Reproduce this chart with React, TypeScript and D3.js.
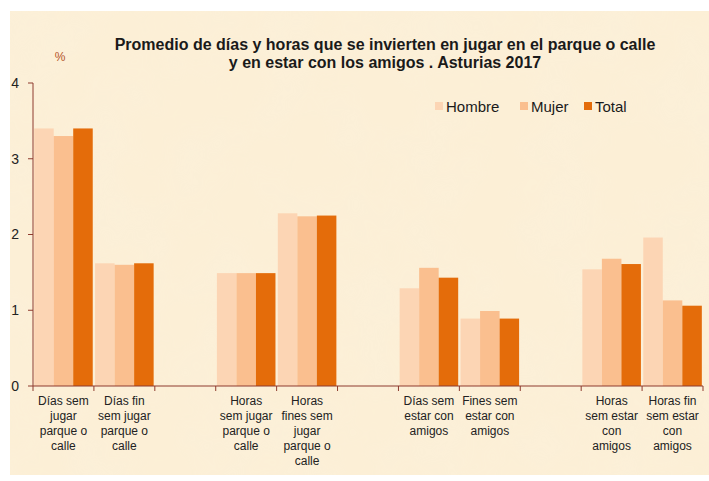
import React from "react";
import * as d3 from "d3";

// categories (empty slots are the gaps between groups)
const categories = [
  "Días sem\njugar\nparque o\ncalle",
  "Días fin\nsem jugar\nparque o\ncalle",
  "",
  "Horas\nsem jugar\nparque o\ncalle",
  "Horas\nfines sem\njugar\nparque o\ncalle",
  "",
  "Días sem\nestar con\namigos",
  "Fines sem\nestar con\namigos",
  "",
  "Horas\nsem estar\ncon\namigos",
  "Horas fin\nsem estar\ncon\namigos",
];
const series = ["Hombre", "Mujer", "Total"];
const hombre = [3.4, 1.62, null, 1.49, 2.28, null, 1.29, 0.89, null, 1.54, 1.96];
const mujer = [3.3, 1.6, null, 1.49, 2.24, null, 1.56, 0.99, null, 1.68, 1.13];
const total = [3.4, 1.62, null, 1.49, 2.25, null, 1.43, 0.89, null, 1.61, 1.06];
const yTicks = [0, 1, 2, 3, 4];
const colors = ["#fcd5b4", "#fabf8f", "#e46c0a"];

const App = () => {
  const width = 709;
  const height = 481;
  const m = { left: 33, right: 6, top: 83, bottom: 95 };
  const innerW = width - m.left - m.right;
  const innerH = height - m.top - m.bottom;

  const x = d3
    .scaleBand<number>()
    .domain(d3.range(categories.length))
    .range([0, innerW])
    .padding(0);
  const xs = d3
    .scaleBand<string>()
    .domain(series)
    .range([0, x.bandwidth()])
    .paddingInner(0)
    .paddingOuter(0.06);
  const y = d3.scaleLinear().domain([0, 4]).range([innerH, 0]);

  const values = [hombre, mujer, total];
  const axisColor = "#8e3b2e";
  const font = "Liberation Sans, Arial, sans-serif";

  // legend positions
  const legendX = [435, 520, 584];

  return (
    <svg
      width={width}
      height={height}
      style={{ position: "absolute", left: 0, top: 0 }}
    >
      <defs>
        <filter id="paper" x="0" y="0" width="100%" height="100%">
          <feTurbulence type="fractalNoise" baseFrequency="0.015" numOctaves={3} seed={4} result="n" />
          <feColorMatrix
            in="n"
            type="matrix"
            values="0 0 0 0 0.96  0 0 0 0 0.88  0 0 0 0 0.72  0 0 0 -1.4 0.95"
            result="c"
          />
          <feComposite in="c" in2="SourceGraphic" operator="in" />
        </filter>
      </defs>
      <rect x={0} y={0} width={width} height={height} fill="#ffffff" />
      <rect x={10} y={11} width={width - 10} height={464} fill="#fcefd6" />
      <rect x={10} y={11} width={width - 10} height={464} fill="#fcefd6" filter="url(#paper)" opacity={0.5} />

      {/* title */}
      <text
        x={385}
        y={50}
        textAnchor="middle"
        fontFamily={font}
        fontWeight="bold"
        fontSize={16}
        fill="#1a1a1a"
      >
        <tspan x={385} dy={0}>Promedio de días y horas que se invierten en jugar en el parque o calle</tspan>
        <tspan x={385} dy={18}>y en estar con los amigos . Asturias 2017</tspan>
      </text>
      <text x={60} y={61} textAnchor="middle" fontFamily={font} fontSize={12} fill="#b5562a">
        %
      </text>

      {/* legend */}
      {series.map((s, i) => (
        <g key={s}>
          <rect x={legendX[i]} y={102} width={8} height={8} fill={colors[i]} />
          <text x={legendX[i] + 11} y={111.5} fontFamily={font} fontSize={15} fill="#1a1a1a">
            {s}
          </text>
        </g>
      ))}

      <g transform={`translate(${m.left},${m.top})`}>
        {/* bars */}
        {categories.map((c, ci) =>
          series.map((s, si) => {
            const v = values[si][ci];
            if (v == null) return null;
            return (
              <rect
                key={`${ci}-${s}`}
                x={(x(ci) ?? 0) + (xs(s) ?? 0)}
                y={y(v)}
                width={xs.bandwidth()}
                height={innerH - y(v)}
                fill={colors[si]}
              />
            );
          })
        )}

        {/* y axis */}
        <line x1={0} x2={0} y1={0} y2={innerH} stroke={axisColor} strokeWidth={1} />
        {yTicks.map((t) => (
          <g key={t} transform={`translate(0,${y(t)})`}>
            <line x1={-5} x2={0} stroke={axisColor} />
            <text x={-14} dy="0.35em" textAnchor="end" fontFamily={font} fontSize={14} fill="#222">
              {t}
            </text>
          </g>
        ))}

        {/* x axis */}
        <line x1={0} x2={innerW} y1={innerH} y2={innerH} stroke={axisColor} strokeWidth={1} />
        {d3.range(categories.length + 1).map((i) => (
          <line
            key={i}
            x1={i * x.step()}
            x2={i * x.step()}
            y1={innerH}
            y2={innerH + 5}
            stroke={axisColor}
          />
        ))}
        {categories.map((c, ci) => (
          <text
            key={ci}
            textAnchor="middle"
            fontFamily={font}
            fontSize={12}
            fill="#222"
          >
            {c.split("\n").map((line, li) => (
              <tspan key={li} x={(x(ci) ?? 0) + x.bandwidth() / 2} y={innerH + 19 + li * 15}>
                {line}
              </tspan>
            ))}
          </text>
        ))}
      </g>
    </svg>
  );
};

export default App;
